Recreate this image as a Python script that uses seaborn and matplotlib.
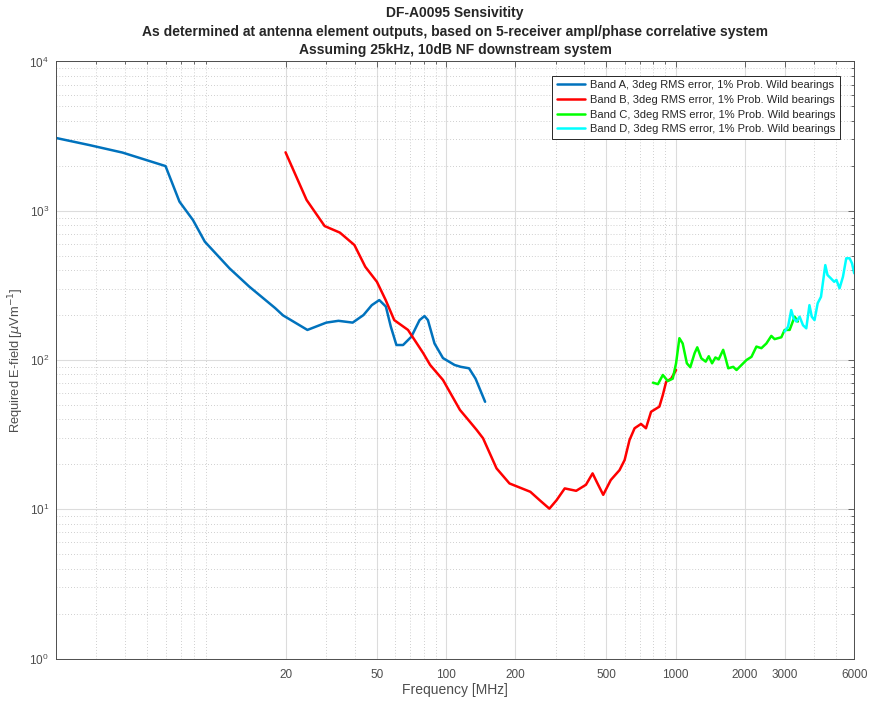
import numpy as np
import pandas as pd
import seaborn as sns
import matplotlib.pyplot as plt
from matplotlib.ticker import FixedLocator, LogLocator, NullFormatter

# frequency [MHz] / required field [uV/m]
band_a_f = [2, 2.8, 3.9, 6.0, 6.9, 7.9, 8.9, 11.4, 13.9, 18.0, 19.5, 24.9, 30.1, 34,
            39.2, 43.7, 47.5, 51.2, 54.7, 57.5, 60.8, 65, 70.6, 76.7, 80.6, 83.4,
            89.1, 97, 109, 116, 126, 134.5, 148]
band_a_v = [3070, 2750, 2450, 1990, 1150, 866, 620, 411, 310, 223, 199, 159, 178, 183,
            178, 200, 233, 252, 228, 167, 126, 126, 143, 185, 197, 185,
            129, 103, 92.6, 90, 88, 75, 52.5]

band_b_f = [20, 24.7, 29.6, 34.5, 39.9, 44.5, 50, 54.6, 59.5, 68.3, 73, 79.6, 85.3,
            97, 115, 127, 136, 145, 166, 189, 233, 256, 282, 303, 329, 369, 407,
            435, 457, 484, 522, 570, 600, 630, 663, 707, 743, 782, 850, 880, 910,
            957, 1005]
band_b_v = [2460, 1180, 789, 713, 589, 421, 334, 252, 185, 159, 136, 111, 92.6,
            73.5, 46.3, 38.6, 34, 29.9, 18.8, 14.9, 13.1, 11.5, 10.1, 11.5, 13.8, 13.3, 14.6,
            17.4, 14.9, 12.5, 15.7, 18.3, 21.4, 29.1, 34.9, 37.3, 34.9, 45, 48.7, 58.3, 71.6,
            75, 85.7]

band_c_f = [797, 838, 880, 925, 972, 1005, 1039, 1074, 1120, 1159, 1210, 1243, 1295,
            1353, 1395, 1442, 1491, 1541, 1612, 1652, 1696, 1783, 1843, 1938, 2037,
            2141, 2250, 2365, 2486, 2613, 2700, 2889, 2986, 3140, 3300, 3410]
band_c_v = [70.5, 68.9, 79.4, 72.3, 75, 95, 140, 129, 95, 89.4, 111, 121.6, 102.6,
            97.5, 106, 95, 104, 101, 117, 102.6, 88, 90, 85.7, 92.6, 100,
            105, 123, 120, 129, 145, 138, 142, 159, 159, 195, 181]

band_d_f = [2986, 3090, 3190, 3270, 3360, 3470, 3590, 3710, 3830, 3920, 4030, 4160,
            4300, 4400, 4490, 4590, 4750, 4910, 5020, 5180, 5360, 5540, 5730, 5870, 6000]
band_d_v = [155, 167, 216, 190, 181, 195, 171, 163, 233, 195, 185, 240,
            265, 344, 432, 371, 352, 334, 344, 302, 361, 480, 480, 444, 381]

labels = ['Band A, 3deg RMS error, 1% Prob. Wild bearings',
          'Band B, 3deg RMS error, 1% Prob. Wild bearings',
          'Band C, 3deg RMS error, 1% Prob. Wild bearings',
          'Band D, 3deg RMS error, 1% Prob. Wild bearings']
colors = ['#0072BD', '#FF0000', '#00FF00', '#00FFFF']
x_ticks = [20, 50, 100, 200, 500, 1000, 2000, 3000, 6000]

frames = []
for lab, f, v in zip(labels, [band_a_f, band_b_f, band_c_f, band_d_f],
                     [band_a_v, band_b_v, band_c_v, band_d_v]):
    frames.append(pd.DataFrame({'freq': f, 'field': v, 'band': lab}))
df = pd.concat(frames, ignore_index=True)

sns.set_style('white')
plt.rcParams['font.family'] = ['Liberation Sans', 'DejaVu Sans']

fig = plt.figure(figsize=(8.7, 7.01), dpi=100)
ax = fig.add_axes([56 / 870, 1 - 658.6 / 701, (854.2 - 56) / 870, (658.6 - 61.4) / 701])

sns.lineplot(data=df, x='freq', y='field', hue='band', palette=colors,
             sort=False, estimator=None, linewidth=1.8, ax=ax)

ax.set_xscale('log')
ax.set_yscale('log')
ax.set_xlim(2, 6000)
ax.set_ylim(1, 1e4)

ax.xaxis.set_major_locator(FixedLocator(x_ticks))
ax.set_xticklabels([str(t) for t in x_ticks])
ax.xaxis.set_minor_locator(LogLocator(base=10, subs=np.arange(2, 10)))
ax.xaxis.set_minor_formatter(NullFormatter())
ax.yaxis.set_major_locator(LogLocator(base=10, numticks=10))
ax.yaxis.set_minor_locator(LogLocator(base=10, subs=np.arange(2, 10), numticks=10))
ax.yaxis.set_minor_formatter(NullFormatter())

ax.grid(True, which='major', color='#dcdcdc', linewidth=0.8, linestyle='-')
ax.grid(True, which='minor', color='#c0c0c0', linewidth=0.6, linestyle=(0, (1, 2.5)))
ax.set_axisbelow(True)

ax.tick_params(which='both', direction='in', top=True, right=True,
               colors='#4d4d4d', labelsize=8.5, width=0.6)
ax.tick_params(which='major', length=4)
ax.tick_params(which='minor', length=2.5)
ax.tick_params(axis='x', which='major', pad=7.5)
ax.tick_params(axis='y', which='major', pad=5)
for sp in ax.spines.values():
    sp.set_color('#4d4d4d')
    sp.set_linewidth(0.7)

ax.set_xlabel('Frequency [MHz]', fontsize=10, color='#4d4d4d')
ax.xaxis.set_label_coords(0.5, -0.041)
ax.set_ylabel(r'Required E-field [$\mu$Vm$^{-1}$]', fontsize=9.3, color='#4d4d4d')
ax.yaxis.set_label_coords(-0.037, 0.5)
ax.set_title('DF-A0095 Sensivitity\n'
             'As determined at antenna element outputs, based on 5-receiver ampl/phase correlative system\n'
             'Assuming 25kHz, 10dB NF downstream system',
             fontsize=10, fontweight='bold', linespacing=1.43, pad=5)

leg = ax.legend(loc='upper right', fontsize=8, frameon=True, fancybox=False,
                edgecolor='#262626', framealpha=1, borderaxespad=1.3,
                handlelength=2.6, handletextpad=0.4, labelspacing=0.42,
                borderpad=0.4, title=None)
leg.get_frame().set_linewidth(0.7)

fig.savefig('out.png', dpi=100)
